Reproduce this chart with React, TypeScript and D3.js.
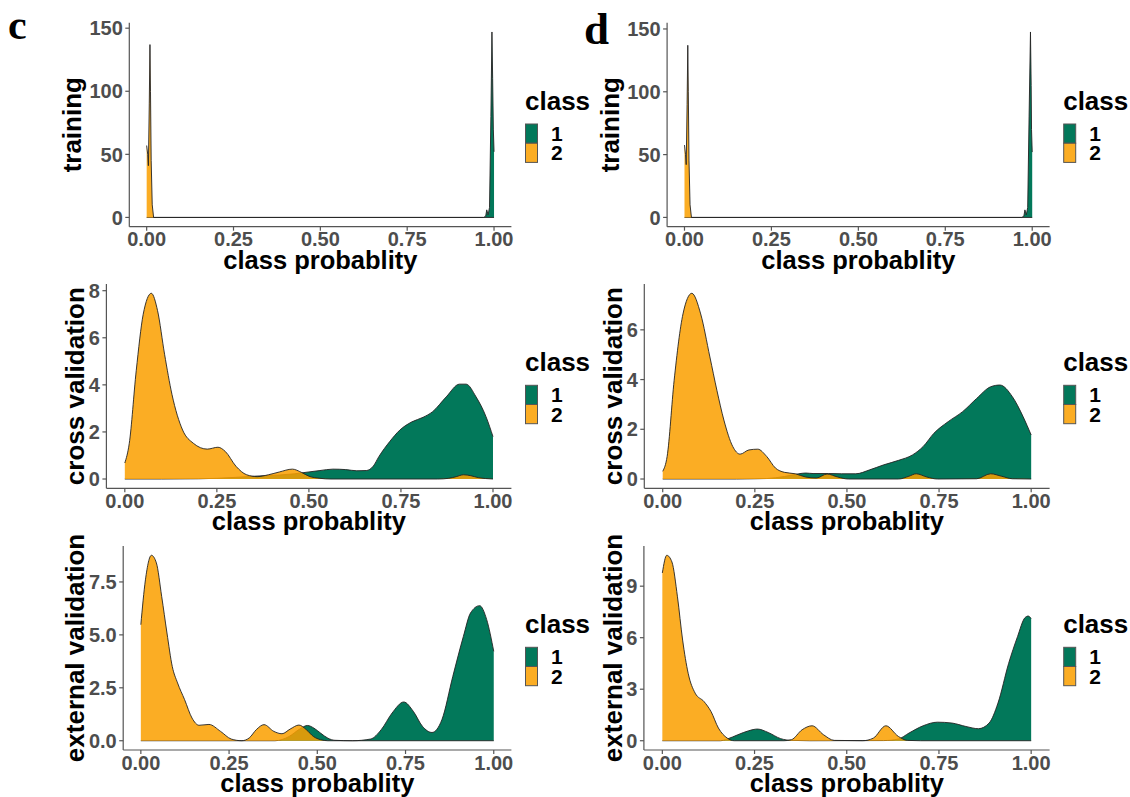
import React from 'react';
import * as d3 from 'd3';

// ---------- shared categories / ticks ----------
const classes = ['1', '2'];
const classFills = ['#02785A', '#FA9F00'];
const classOpacity = [1, 0.86];
const xTicks = [0, 0.25, 0.5, 0.75, 1];
const xTickLabels = ['0.00', '0.25', '0.50', '0.75', '1.00'];
const xTitle = 'class probablity';
const legendTitle = 'class';

// ---------- c: training ----------
const cTrain1X = [0, 0.97, 0.976, 0.979, 0.983, 0.987, 0.991, 0.994, 0.996, 0.998, 1.0];
const cTrain1Y = [0, 0, 1, 6, 2, 8, 80, 147, 110, 70, 52];
const cTrain2X = [0, 0.003, 0.005, 0.0075, 0.0095, 0.011, 0.013, 0.016, 0.02, 0.03, 1.0];
const cTrain2Y = [57, 50, 41, 90, 137, 100, 45, 10, 0, 0, 0];
const trainTicks = [0, 50, 100, 150];
const trainTickLabels = ['0', '50', '100', '150'];

// ---------- c: cross validation ----------
const cCV1X = [0, 0.1, 0.2, 0.25, 0.3, 0.34, 0.38, 0.42, 0.46, 0.5, 0.53, 0.565, 0.6, 0.63, 0.656, 0.675, 0.69, 0.72, 0.747, 0.78, 0.81, 0.836, 0.873, 0.909, 0.927, 0.954, 0.981, 1.0];
const cCV1Y = [0, 0, 0.01, 0.03, 0.07, 0.11, 0.14, 0.17, 0.22, 0.3, 0.36, 0.42, 0.4, 0.35, 0.36, 0.55, 0.95, 1.6, 2.08, 2.43, 2.62, 2.86, 3.49, 4.03, 4.03, 3.49, 2.65, 1.8];
const cCV2X = [0, 0.012, 0.031, 0.05, 0.072, 0.089, 0.108, 0.128, 0.157, 0.186, 0.224, 0.253, 0.273, 0.302, 0.331, 0.36, 0.39, 0.42, 0.455, 0.48, 0.5, 0.53, 0.56, 0.85, 0.88, 0.9, 0.92, 0.94, 0.96, 0.98, 1.0];
const cCV2Y = [0.68, 1.5, 4.6, 7.0, 7.89, 7.15, 5.3, 3.6, 2.08, 1.52, 1.27, 1.35, 1.17, 0.54, 0.18, 0.1, 0.18, 0.3, 0.42, 0.28, 0.12, 0.03, 0, 0, 0.03, 0.1, 0.18, 0.14, 0.06, 0.02, 0];
const cCVTicks = [0, 2, 4, 6, 8];
const cCVTickLabels = ['0', '2', '4', '6', '8'];

// ---------- c: external validation ----------
const cEV1X = [0, 0.3, 0.38, 0.42, 0.45, 0.472, 0.49, 0.51, 0.53, 0.55, 0.6, 0.651, 0.681, 0.712, 0.745, 0.772, 0.798, 0.825, 0.853, 0.884, 0.914, 0.934, 0.96, 0.98, 1.0];
const cEV1Y = [0, 0, 0, 0.2, 0.55, 0.72, 0.6, 0.35, 0.12, 0.02, 0, 0.08, 0.52, 1.31, 1.83, 1.39, 0.68, 0.39, 0.99, 3.04, 4.93, 6.03, 6.38, 5.72, 4.22];
const cEV2X = [0, 0.013, 0.03, 0.044, 0.059, 0.074, 0.089, 0.104, 0.124, 0.145, 0.165, 0.193, 0.226, 0.256, 0.286, 0.307, 0.327, 0.349, 0.377, 0.4, 0.423, 0.448, 0.469, 0.489, 0.509, 0.53, 1.0];
const cEV2Y = [5.48, 7.6, 8.76, 8.4, 6.82, 5.09, 3.51, 2.73, 1.94, 1.07, 0.73, 0.77, 0.44, 0.08, 0, 0.13, 0.52, 0.76, 0.44, 0.33, 0.55, 0.74, 0.52, 0.2, 0.05, 0, 0];
const cEVTicks = [0, 2.5, 5, 7.5];
const cEVTickLabels = ['0.0', '2.5', '5.0', '7.5'];

// ---------- d: training ----------
const dTrain1X = [0, 0.97, 0.976, 0.979, 0.983, 0.987, 0.991, 0.995, 0.997, 0.998, 1.0];
const dTrain1Y = [0, 0, 1, 6, 2, 8, 80, 147.6, 105, 70, 52];
const dTrain2X = [0, 0.003, 0.005, 0.0075, 0.0095, 0.011, 0.013, 0.016, 0.02, 0.03, 1.0];
const dTrain2Y = [57.6, 50, 42, 90, 137, 100, 45, 10, 0, 0, 0];

// ---------- d: cross validation ----------
const dCV1X = [0, 0.2, 0.25, 0.282, 0.33, 0.369, 0.388, 0.408, 0.45, 0.485, 0.524, 0.562, 0.6, 0.64, 0.678, 0.707, 0.736, 0.775, 0.814, 0.852, 0.89, 0.915, 0.949, 0.978, 1.0];
const dCV1Y = [0, 0, 0.01, 0.02, 0.1, 0.21, 0.24, 0.22, 0.22, 0.21, 0.21, 0.37, 0.57, 0.75, 0.97, 1.31, 1.84, 2.31, 2.71, 3.24, 3.71, 3.78, 3.31, 2.51, 1.77];
const dCV2X = [0, 0.012, 0.031, 0.055, 0.079, 0.103, 0.128, 0.147, 0.166, 0.19, 0.21, 0.234, 0.258, 0.282, 0.306, 0.33, 0.36, 0.388, 0.417, 0.446, 0.475, 0.504, 0.64, 0.668, 0.688, 0.717, 0.746, 0.852, 0.89, 0.92, 0.949, 1.0];
const dCV2Y = [0.31, 0.91, 3.97, 6.64, 7.47, 6.64, 4.91, 3.57, 2.37, 1.31, 1.0, 1.17, 1.2, 0.91, 0.44, 0.27, 0.21, 0.08, 0.04, 0.2, 0.08, 0, 0, 0.11, 0.21, 0.08, 0, 0.01, 0.21, 0.11, 0.01, 0];
const dCVTicks = [0, 2, 4, 6];
const dCVTickLabels = ['0', '2', '4', '6'];

// ---------- d: external validation ----------
const dEV1X = [0, 0.157, 0.176, 0.205, 0.234, 0.258, 0.287, 0.321, 0.35, 0.4, 0.6, 0.64, 0.669, 0.707, 0.746, 0.785, 0.823, 0.857, 0.886, 0.91, 0.939, 0.963, 0.983, 0.992, 1.0];
const dEV1Y = [0, 0, 0.1, 0.35, 0.58, 0.68, 0.48, 0.12, 0.02, 0, 0.01, 0.1, 0.45, 0.87, 1.08, 1.03, 0.83, 0.7, 1.03, 2.19, 4.51, 6.06, 7.16, 7.26, 7.12];
const dEV2X = [0, 0.012, 0.026, 0.041, 0.055, 0.07, 0.089, 0.113, 0.132, 0.152, 0.176, 0.195, 0.33, 0.35, 0.379, 0.406, 0.437, 0.466, 0.543, 0.572, 0.606, 0.64, 0.664, 0.7, 1.0];
const dEV2Y = [9.77, 10.8, 10.41, 8.38, 5.86, 3.93, 2.77, 2.28, 1.7, 0.74, 0.15, 0, 0, 0.06, 0.64, 0.87, 0.35, 0.02, 0, 0.15, 0.87, 0.25, 0.02, 0, 0];
const dEVTicks = [0, 3, 6, 9];
const dEVTickLabels = ['0', '3', '6', '9'];

// ---------- layout (pixel boxes) ----------
const rowTops = [22.7, 284, 546];
const rowBottoms = [226.7, 488.3, 750];
const colShift = 538.2;

type PanelSpec = {
  yTitle: string;
  ticks: number[];
  tickLabels: string[];
  s1x: number[]; s1y: number[];
  s2x: number[]; s2y: number[];
  smooth: boolean;
  left: number; right: number; top: number; bottom: number;
  legendX: number; yTitleX: number;
};

const leftLefts = [129.3, 106.4, 123.2];
const rightLefts = [667.1, 644.3, 643.9];
const yTitleLeft = 81;

const panels: PanelSpec[] = [
  { yTitle: 'training', ticks: trainTicks, tickLabels: trainTickLabels, s1x: cTrain1X, s1y: cTrain1Y, s2x: cTrain2X, s2y: cTrain2Y, smooth: false, left: leftLefts[0], right: 511.4, top: rowTops[0], bottom: rowBottoms[0], legendX: 525, yTitleX: yTitleLeft },
  { yTitle: 'cross validation', ticks: cCVTicks, tickLabels: cCVTickLabels, s1x: cCV1X, s1y: cCV1Y, s2x: cCV2X, s2y: cCV2Y, smooth: true, left: leftLefts[1], right: 511.4, top: rowTops[1], bottom: rowBottoms[1], legendX: 525, yTitleX: yTitleLeft + 3 },
  { yTitle: 'external validation', ticks: cEVTicks, tickLabels: cEVTickLabels, s1x: cEV1X, s1y: cEV1Y, s2x: cEV2X, s2y: cEV2Y, smooth: true, left: leftLefts[2], right: 511.4, top: rowTops[2], bottom: rowBottoms[2], legendX: 525, yTitleX: yTitleLeft + 3 },
  { yTitle: 'training', ticks: trainTicks, tickLabels: trainTickLabels, s1x: dTrain1X, s1y: dTrain1Y, s2x: dTrain2X, s2y: dTrain2Y, smooth: false, left: rightLefts[0], right: 511.4 + colShift, top: rowTops[0], bottom: rowBottoms[0], legendX: 525 + colShift, yTitleX: yTitleLeft + colShift },
  { yTitle: 'cross validation', ticks: dCVTicks, tickLabels: dCVTickLabels, s1x: dCV1X, s1y: dCV1Y, s2x: dCV2X, s2y: dCV2Y, smooth: true, left: rightLefts[1], right: 511.4 + colShift, top: rowTops[1], bottom: rowBottoms[1], legendX: 525 + colShift, yTitleX: yTitleLeft + 3 + colShift },
  { yTitle: 'external validation', ticks: dEVTicks, tickLabels: dEVTickLabels, s1x: dEV1X, s1y: dEV1Y, s2x: dEV2X, s2y: dEV2Y, smooth: true, left: rightLefts[2], right: 511.4 + colShift, top: rowTops[2], bottom: rowBottoms[2], legendX: 525 + colShift, yTitleX: yTitleLeft + 3 + colShift },
];

const SANS = '"Liberation Sans", Arial, Helvetica, sans-serif';
const SERIF = '"Liberation Serif", "Times New Roman", serif';
const AXIS_COL = '#555555';
const TICK_COL = '#4D4D4D';

function DensityPanel({ p }: { p: PanelSpec }) {
  const x = d3.scaleLinear().domain([-0.05, 1.05]).range([p.left, p.right]);
  const M = d3.max([...p.s1y, ...p.s2y]) as number;
  const y = d3.scaleLinear().domain([-0.05 * M, 1.05 * M]).range([p.bottom, p.top]);
  const curve = p.smooth ? d3.curveMonotoneX : d3.curveLinear;
  const area = d3.area<[number, number]>().x(d => x(d[0])).y0(y(0)).y1(d => y(d[1])).curve(curve);
  const line = d3.line<[number, number]>().x(d => x(d[0])).y(d => y(d[1])).curve(curve);
  const series: [number, number][][] = [
    p.s1x.map((v, i) => [v, p.s1y[i]] as [number, number]),
    p.s2x.map((v, i) => [v, p.s2y[i]] as [number, number]),
  ];
  const midY = (p.top + p.bottom) / 2;
  const midX = (p.left + p.right) / 2;
  return (
    <g>
      {series.map((s, i) => (
        <g key={i}>
          <path d={area(s) || ''} fill={classFills[i]} fillOpacity={classOpacity[i]} stroke="none" />
          <path d={line(s) || ''} fill="none" stroke="#222" strokeWidth={0.9} />
        </g>
      ))}
      <line x1={p.left} x2={p.left} y1={p.top} y2={p.bottom} stroke={AXIS_COL} strokeWidth={1.2} />
      <line x1={p.left} x2={p.right} y1={p.bottom} y2={p.bottom} stroke={AXIS_COL} strokeWidth={1.2} />
      {p.ticks.map((t, i) => (
        <g key={'y' + i}>
          <line x1={p.left - 4} x2={p.left} y1={y(t)} y2={y(t)} stroke={AXIS_COL} strokeWidth={1.2} />
          <text x={p.left - 6.5} y={y(t)} dy="0.36em" textAnchor="end" fontFamily={SANS} fontWeight="bold" fontSize={20} fill={TICK_COL}>{p.tickLabels[i]}</text>
        </g>
      ))}
      {xTicks.map((t, i) => (
        <g key={'x' + i}>
          <line x1={x(t)} x2={x(t)} y1={p.bottom} y2={p.bottom + 4} stroke={AXIS_COL} strokeWidth={1.2} />
          <text x={x(t)} y={p.bottom + 19.5} textAnchor="middle" fontFamily={SANS} fontWeight="bold" fontSize={20} fill={TICK_COL}>{xTickLabels[i]}</text>
        </g>
      ))}
      <text x={midX} y={p.bottom + 42} textAnchor="middle" fontFamily={SANS} fontWeight="bold" fontSize={25.5} fill="#000">{xTitle}</text>
      <text transform={`translate(${p.yTitleX},${midY}) rotate(-90)`} textAnchor="middle" fontFamily={SANS} fontWeight="bold" fontSize={26} fill="#000">{p.yTitle}</text>
      <text x={p.legendX} y={p.top + 87} fontFamily={SANS} fontWeight="bold" fontSize={26} fill="#000">{legendTitle}</text>
      {classes.map((c, i) => (
        <g key={'l' + i}>
          <rect x={p.legendX + 0.5} y={p.top + 101.3 + i * 19.2} width={12} height={19.2} fill={classFills[i]} fillOpacity={classOpacity[i]} stroke="#555" strokeWidth={1} />
          <text x={p.legendX + 26} y={p.top + 101.3 + i * 19.2 + 17} fontFamily={SANS} fontWeight="bold" fontSize={21} fill="#000">{c}</text>
        </g>
      ))}
    </g>
  );
}

export default function App() {
  return (
    <svg width={1130} height={797} style={{ position: 'absolute', left: 0, top: 0, background: '#fff' }}>
      <rect x={0} y={0} width={1130} height={797} fill="#fff" />
      {panels.map((p, i) => <DensityPanel key={i} p={p} />)}
      <text x={8} y={39} fontFamily={SERIF} fontWeight="bold" fontSize={42} fill="#000">c</text>
      <text x={584} y={44} fontFamily={SERIF} fontWeight="bold" fontSize={45} fill="#000">d</text>
    </svg>
  );
}
